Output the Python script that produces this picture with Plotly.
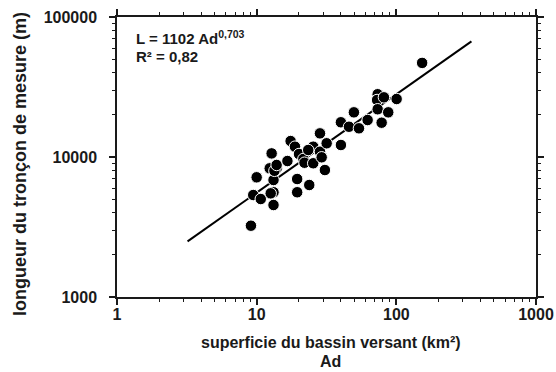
import plotly.graph_objects as go

# Observed data: drainage area (km²) vs. measured reach length (m)
ad_km2 = [9.1, 9.45, 10.0, 10.7, 12.4, 12.8, 13.2, 13.2, 13.2, 13.9, 13.4, 13.9,
          12.6, 16.6, 17.5, 18.8, 20.1, 19.5, 19.5, 21.6, 22.0, 23.8, 25.4, 25.4,
          23.4, 28.4, 28.4, 29.2, 30.8, 31.7, 40.1, 40.1, 45.8, 49.7, 54.0, 62.3,
          73.5, 72.8, 73.5, 78.5, 81.5, 87.5, 100.5, 153.0]
length_m = [3230, 5350, 7160, 5010, 8300, 10610, 4540, 5600, 6850, 8300, 7970, 8770,
            5500, 9360, 13000, 11850, 10500, 6960, 5600, 9680, 9100, 6310, 9020, 11850,
            11220, 14750, 10910, 9950, 8070, 12530, 12180, 17700, 16450, 20850, 16030, 18370,
            28070, 25530, 21930, 17580, 26680, 20850, 25960, 47000]

# Fitted power law L = 1102 * Ad^0.703
fit_coef = 1102
fit_expo = 0.703
fit_x = [3.2, 345]
fit_y = [fit_coef * x ** fit_expo for x in fit_x]

x_ticks = [1, 10, 100, 1000]
x_ticktext = ["<b>1</b>", "<b>10</b>", "<b>100</b>", "<b>1000</b>"]
y_ticks = [1000, 10000, 100000]
y_ticktext = ["<b>1000</b>", "<b>10000</b>", "<b>100000</b>"]

FONT = "Liberation Sans"
INK = "#1a1a1a"

def minor_vals(lo_exp, hi_exp):
    v = []
    for e in range(lo_exp, hi_exp):
        for m in range(2, 10):
            v.append(m * 10 ** e)
    return v

fig = go.Figure()
fig.add_trace(go.Scatter(x=fit_x, y=fit_y, mode="lines",
                         line=dict(color="black", width=2), showlegend=False))
fig.add_trace(go.Scatter(x=ad_km2, y=length_m, mode="markers",
                         marker=dict(color="black", size=11.5,
                                     line=dict(color="white", width=1)),
                         showlegend=False))

axis_common = dict(
    showgrid=False, zeroline=False, showline=True, linecolor=INK, linewidth=1.5,
    mirror="allticks", ticks="outside", ticklen=6, tickwidth=1.5, tickcolor=INK,
    tickfont=dict(family=FONT, size=16, color=INK), automargin=False,
)

fig.update_xaxes(type="log", range=[0, 3], tickmode="array", tickvals=x_ticks,
                 ticktext=x_ticktext, ticklabelstandoff=-4,
                 minor=dict(tickmode="array", tickvals=minor_vals(0, 3), ticks="outside",
                            ticklen=3, tickwidth=1, tickcolor=INK, showgrid=False),
                 **axis_common)
fig.update_yaxes(type="log", range=[3, 5], tickmode="array", tickvals=y_ticks,
                 ticktext=y_ticktext, ticklabelstandoff=9,
                 minor=dict(tickmode="array", tickvals=minor_vals(3, 5), ticks="outside",
                            ticklen=3, tickwidth=1, tickcolor=INK, showgrid=False),
                 **axis_common)

# y-axis title
fig.add_annotation(xref="paper", yref="paper", x=(20 - 117) / 419, y=1 - (164 - 17) / 280,
                   xanchor="center", yanchor="middle", showarrow=False, textangle=-90,
                   text="<b>longueur du tronçon de mesure (m)</b>",
                   font=dict(family=FONT, size=18, color=INK))

# x-axis title as two lines (tight line spacing as in the reference)
fig.add_annotation(xref="paper", yref="paper", x=0.51, y=-0.164, xanchor="center",
                   yanchor="middle", showarrow=False,
                   text="<b>superficie du bassin versant (km²)</b>",
                   font=dict(family=FONT, size=16, color=INK))
fig.add_annotation(xref="paper", yref="paper", x=0.51, y=-0.232, xanchor="center",
                   yanchor="middle", showarrow=False, text="<b>Ad</b>",
                   font=dict(family=FONT, size=16, color=INK))

# equation
fig.add_annotation(xref="paper", yref="paper", x=0.04, y=1 - (48.5 - 17) / 280,
                   xanchor="left", yanchor="bottom", showarrow=False,
                   text="<b>L = 1102 Ad<sup>0,703</sup></b>",
                   font=dict(family=FONT, size=15, color=INK))
fig.add_annotation(xref="paper", yref="paper", x=0.04, y=1 - (46 - 17) / 280,
                   xanchor="left", yanchor="top", showarrow=False,
                   text="<b>R² = 0,82</b>",
                   font=dict(family=FONT, size=15, color=INK))

fig.update_layout(
    width=556, height=372,
    margin=dict(l=117, r=20, t=17, b=75, autoexpand=False),
    paper_bgcolor="white", plot_bgcolor="white",
    font=dict(family=FONT, color=INK),
)

fig.write_html("out.html")
